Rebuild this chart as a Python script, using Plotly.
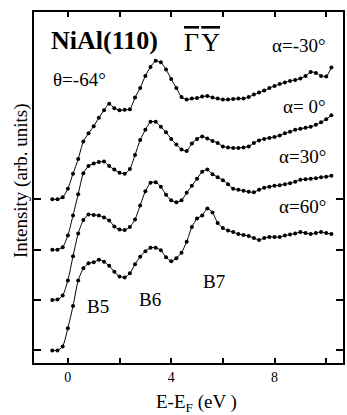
import plotly.graph_objects as go

# Energy grid (eV), shared by all spectra
energy = [-0.6, -0.4, -0.2, 0.0, 0.2, 0.4, 0.6, 0.8, 1.0, 1.2, 1.4, 1.6, 1.8, 2.0,
          2.2, 2.4, 2.6, 2.8, 3.0, 3.2, 3.4, 3.6, 3.8, 4.0, 4.2, 4.4, 4.6, 4.8,
          5.0, 5.2, 5.4, 5.6, 5.8, 6.0, 6.2, 6.4, 6.6, 6.8, 7.0, 7.2, 7.4, 7.6,
          7.8, 8.0, 8.2, 8.4, 8.6, 8.8, 9.0, 9.2, 9.4, 9.6, 9.8, 10.0, 10.2]

# Intensities (arb. units), relative to each spectrum's own baseline
alpha_m30 = [0.00, 0.00, 0.04, 0.21, 0.51, 0.80, 1.15, 1.31, 1.45, 1.62, 1.77, 1.90, 1.81, 1.77,
             1.78, 1.79, 2.02, 2.21, 2.45, 2.63, 2.75, 2.72, 2.58, 2.39, 2.21, 2.03, 1.98, 2.00,
             2.01, 2.04, 2.05, 2.02, 2.00, 1.98, 1.98, 1.99, 2.00, 2.00, 2.03, 2.08, 2.12, 2.16,
             2.21, 2.25, 2.29, 2.32, 2.35, 2.37, 2.40, 2.45, 2.53, 2.51, 2.45, 2.44, 2.62]
alpha_0 = [0.00, 0.00, 0.05, 0.28, 0.68, 1.10, 1.52, 1.66, 1.71, 1.74, 1.75, 1.66, 1.59, 1.53,
           1.51, 1.60, 1.88, 2.18, 2.38, 2.54, 2.54, 2.44, 2.33, 2.20, 2.09, 1.99, 1.96, 2.11,
           2.20, 2.25, 2.21, 2.16, 2.12, 2.05, 2.03, 2.02, 2.02, 2.03, 2.05, 2.12, 2.17, 2.20,
           2.22, 2.24, 2.27, 2.31, 2.34, 2.38, 2.40, 2.42, 2.44, 2.48, 2.53, 2.59, 2.67]
alpha_30 = [0.00, 0.01, 0.09, 0.39, 0.87, 1.32, 1.59, 1.70, 1.69, 1.68, 1.64, 1.58, 1.46, 1.40,
            1.39, 1.45, 1.60, 1.88, 2.16, 2.33, 2.34, 2.25, 2.09, 1.98, 1.94, 1.98, 2.13, 2.27,
            2.41, 2.55, 2.59, 2.50, 2.44, 2.38, 2.30, 2.21, 2.19, 2.17, 2.15, 2.14, 2.19, 2.23,
            2.25, 2.27, 2.28, 2.30, 2.32, 2.35, 2.39, 2.40, 2.41, 2.42, 2.44, 2.45, 2.47]
alpha_60 = [0.00, 0.00, 0.08, 0.44, 0.88, 1.39, 1.63, 1.73, 1.75, 1.80, 1.76, 1.68, 1.56, 1.47,
            1.45, 1.53, 1.71, 1.86, 1.97, 2.04, 2.04, 1.99, 1.85, 1.77, 1.83, 1.94, 2.16, 2.45,
            2.62, 2.68, 2.82, 2.74, 2.53, 2.43, 2.38, 2.35, 2.31, 2.29, 2.27, 2.23, 2.19, 2.23,
            2.25, 2.25, 2.25, 2.28, 2.30, 2.32, 2.35, 2.33, 2.31, 2.33, 2.35, 2.33, 2.31]

series = [("α=-30°", alpha_m30, 3), ("α= 0°", alpha_0, 2),
          ("α=30°", alpha_30, 1), ("α=60°", alpha_60, 0)]

xtick_vals = [0, 4, 8]
xtick_text = ["0", "4", "8"]
xminor_vals = [2, 6, 10]
ytick_vals = [0, 1, 2, 3]

SERIF = "Liberation Serif, Times New Roman, serif"

fig = go.Figure()
for name, vals, off in series:
    fig.add_trace(go.Scatter(
        x=energy, y=[v + off for v in vals], mode="lines+markers", name=name,
        line=dict(color="black", width=1, shape="spline", smoothing=0.6),
        marker=dict(color="black", size=4), showlegend=False))

ann = []
def txt(x, y, s, size, xanchor="left", bold=False, xref="x", yref="y", angle=0):
    ann.append(dict(x=x, y=y, xref=xref, yref=yref, text=(f"<b>{s}</b>" if bold else s),
                    showarrow=False, xanchor=xanchor, yanchor="middle", textangle=angle,
                    font=dict(family=SERIF, size=size, color="black")))

OV = "<span style='text-decoration:overline'>{}</span>"
txt(-0.72, 6.16, "NiAl(110)", 26, bold=True)
txt(4.42, 6.12, OV.format("Γ") + "\u200a" + OV.format("Y"), 26)
txt(10.08, 6.06, "α=-30°", 19, xanchor="right")
txt(-0.66, 5.38, "θ=-64°", 19)
txt(10.08, 4.85, "α= 0°", 19, xanchor="right")
txt(10.08, 3.86, "α=30°", 19, xanchor="right")
txt(10.08, 2.86, "α=60°", 19, xanchor="right")
txt(1.17, 0.87, "B5", 19, xanchor="center")
txt(3.17, 1.01, "B6", 19, xanchor="center")
txt(5.67, 1.36, "B7", 19, xanchor="center")
txt(0.527, -0.115, "E-E<sub>F</sub> (eV )", 19, xanchor="center", xref="paper", yref="paper")
txt(-0.040, 0.52, "Intensity (arb. units)", 19, xanchor="center", xref="paper", yref="paper", angle=-90)

fig.update_layout(
    width=347, height=415, margin=dict(l=34, r=2, t=12, b=52),
    paper_bgcolor="white", plot_bgcolor="white", annotations=ann,
    xaxis=dict(range=[-1.31, 10.65], tickvals=xtick_vals, ticktext=xtick_text,
               ticks="inside", ticklen=5, tickwidth=1.5, tickcolor="black",
               minor=dict(tickvals=xminor_vals, ticks="inside", ticklen=5,
                          tickwidth=1.5, tickcolor="black", showgrid=False),
               showline=True, linewidth=2, linecolor="black", mirror="ticks",
               showgrid=False, zeroline=False,
               tickfont=dict(family=SERIF, size=14, color="black")),
    yaxis=dict(range=[-0.25, 6.72], tickvals=ytick_vals, showticklabels=False,
               ticks="inside", ticklen=7, tickwidth=1.5, tickcolor="black",
               showline=True, linewidth=2, linecolor="black", mirror="ticks",
               showgrid=False, zeroline=False),
)
fig.write_html("out.html")
